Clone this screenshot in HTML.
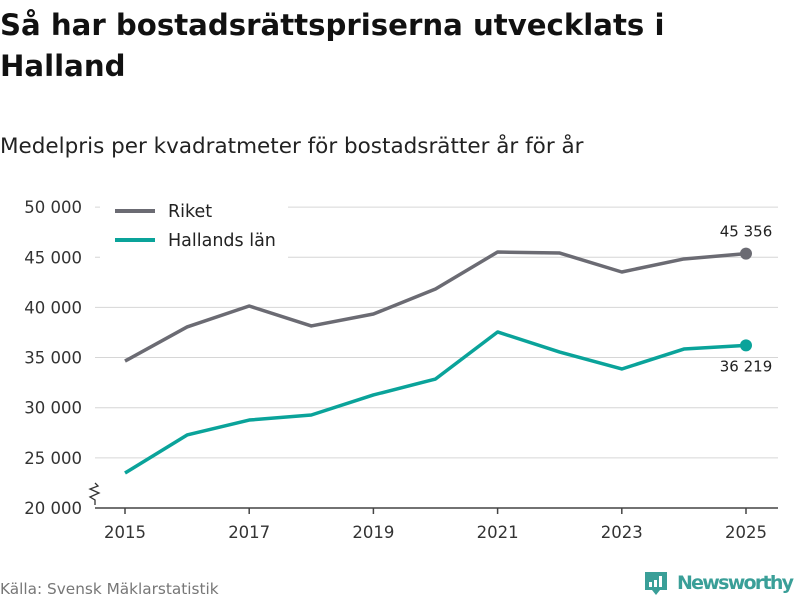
<!DOCTYPE html>
<html><head><meta charset="utf-8"><style>
body{margin:0;width:800px;height:600px;background:#fff;font-family:"DejaVu Sans","Liberation Sans",sans-serif;overflow:hidden}
</style></head><body>
<svg width="800" height="600" style="position:absolute;left:0;top:0">
<text x="0" y="35" font-size="29.2" font-weight="bold" fill="#111">Så har bostadsrättspriserna utvecklats i</text>
<text x="0" y="76" font-size="29.2" font-weight="bold" fill="#111">Halland</text>
<text x="0" y="153" font-size="21.5" fill="#222">Medelpris per kvadratmeter för bostadsrätter år för år</text>
<g id="grid"></g><g id="ylab"></g><g id="xax"></g><g id="lines"></g>
<rect x="100" y="197" width="188" height="62" fill="#fff"/>
<line x1="115" y1="211" x2="155" y2="211" stroke="#6b6b73" stroke-width="4"/>
<text x="168" y="217" font-size="17.5" fill="#222">Riket</text>
<line x1="115" y1="240" x2="155" y2="240" stroke="#0aa39a" stroke-width="4"/>
<text x="168" y="246" font-size="17.5" fill="#222">Hallands län</text>
<text x="0" y="594" font-size="15.3" fill="#777">Källa: Svensk Mäklarstatistik</text>
<g>
<path d="M645 572 h22 v18 h-7 l-4 5 l-4 -5 h-7 z" fill="#3a9f98"/>
<rect x="649" y="582" width="3" height="5" fill="#fff"/><rect x="654" y="580" width="3" height="7" fill="#fff"/><rect x="659" y="576" width="3" height="11" fill="#fff"/>
<text x="677" y="589" font-size="19" font-weight="bold" fill="#3a9f98" textLength="117">Newsworthy</text></g>
</svg>
<script>
const years=[2015,2016,2017,2018,2019,2020,2021,2022,2023,2024,2025];
const riket=[34650,38050,40140,38150,39340,41830,45520,45420,43530,44830,45356];
const halland=[23490,27280,28770,29270,31270,32860,37550,35550,33860,35850,36219];
const yTicks=[20000,25000,30000,35000,40000,45000,50000];
const xTicks=[2015,2017,2019,2021,2023,2025];
const ns="http://www.w3.org/2000/svg";
const X=v=>125+(v-2015)*62.1, Y=v=>508-(v-20000)*0.01003;
const fmt=v=>String(Math.round(v)).replace(/\B(?=(\d{3})+(?!\d))/g,"\u00a0");
function mk(t,a,p){const e=document.createElementNS(ns,t);for(const k in a)e.setAttribute(k,a[k]);document.getElementById(p).appendChild(e);return e;}
yTicks.forEach(v=>{
 if(v>20000){const l=mk('line',{x1:95,x2:778,y1:Y(v),y2:Y(v),stroke:'#d6d6d6','stroke-width':1},'grid');
 
 }
 const t=mk('text',{x:82,y:Y(v)+6,'text-anchor':'end','font-size':16.5,fill:'#333'},'ylab');t.textContent=fmt(v);
 
 
});
const ax=mk('line',{x1:95,x2:778,y1:508,y2:508,stroke:'#444','stroke-width':1.5},'xax');


const zz=mk('path',{d:'M95 505 L95 500 L90 497 L99 493 L90 489 L98 486 L95 483',fill:'none',stroke:'#333','stroke-width':1.3},'xax');


xTicks.forEach(v=>{
 mk('line',{x1:X(v),x2:X(v),y1:508,y2:514,stroke:'#444','stroke-width':1.5},'xax');
 const t=mk('text',{x:X(v),y:538,'text-anchor':'middle','font-size':16.5,fill:'#333'},'xax');t.textContent=v;
 
 
});
function series(d,c,name,ly){
 const p=mk('polyline',{points:d.map((v,i)=>X(years[i])+','+Y(v)).join(' '),fill:'none',stroke:c,'stroke-width':3.5,'stroke-linejoin':'round'},'lines');
 
 
 const n=d.length-1;
 const c1=mk('circle',{cx:X(years[n]),cy:Y(d[n]),r:6,fill:c},'lines');
 
 
 const t=mk('text',{x:X(years[n]),y:Y(d[n])+ly,'text-anchor':'middle','font-size':15,fill:'#222'},'lines');t.textContent=fmt(d[n]);
 
 
}
series(riket,'#6b6b73','riket',-17);
series(halland,'#0aa39a','halland',26);
</script>
</body></html>
